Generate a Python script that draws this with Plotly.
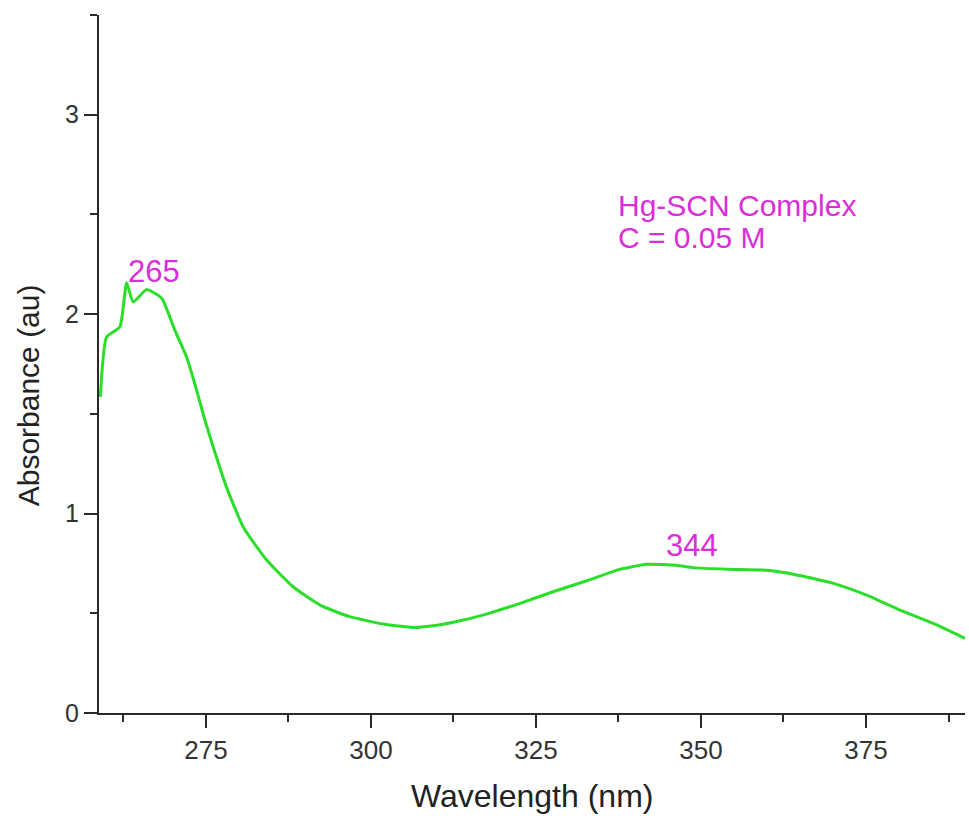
import plotly.graph_objects as go

# Data
wavelength = [259.0, 259.95, 261.97, 262.98, 263.98, 266.0, 267.8, 268.5, 270.3,
              272.07, 273.3, 274.85, 276.1, 278.1, 280.65, 284.2, 288.2, 292.3,
              296.8, 301.9, 306.4, 310.5, 312.5, 317.5, 322.6, 327.6, 332.7,
              337.7, 341.8, 346.3, 348.8, 354.0, 359.9, 364.0, 370.05, 375.1,
              380.15, 385.2, 390.0]
absorbance = [1.585, 1.885, 1.937, 2.157, 2.061, 2.123, 2.094, 2.069, 1.919,
              1.785, 1.652, 1.468, 1.334, 1.134, 0.933, 0.767, 0.633, 0.541,
              0.483, 0.446, 0.429, 0.443, 0.455, 0.496, 0.550, 0.608, 0.663,
              0.720, 0.746, 0.741, 0.729, 0.721, 0.716, 0.696, 0.650, 0.591,
              0.516, 0.449, 0.374]

peak_labels = ["265", "344"]
peak_x = [267.1, 348.7]
peak_y = [2.214, 0.842]

legend_lines = ["Hg-SCN Complex", "C = 0.05 M"]
legend_y = [2.545, 2.385]

x_title = "Wavelength (nm)"
y_title = "Absorbance (au)"

FONT = "Liberation Sans, Arial, sans-serif"
MAGENTA = "#d92ed9"
AXIS = "#2a2a2a"

fig = go.Figure()
fig.add_trace(go.Scatter(
    x=wavelength, y=absorbance, mode="lines",
    line=dict(color="#2ade2a", width=3, shape="spline", smoothing=0.5),
    showlegend=False, hoverinfo="skip",
))

W, H = 969, 816
L, R, T, B = 99, 4, 15, 103
pw, ph = W - L - R, H - T - B

fig.update_layout(
    width=W, height=H,
    margin=dict(l=L, r=R, t=T, b=B),
    paper_bgcolor="white", plot_bgcolor="white",
    font=dict(family=FONT, color="#222222"),
    showlegend=False,
)

fig.update_xaxes(
    range=[258.8, 390], tick0=250, dtick=25,
    ticks="outside", ticklen=13, tickwidth=2, tickcolor=AXIS,
    minor=dict(dtick=12.5, tick0=250, ticks="outside", ticklen=7, tickwidth=2, tickcolor=AXIS),
    showline=True, linecolor=AXIS, linewidth=2,
    showgrid=False, zeroline=False,
    tickfont=dict(family=FONT, size=26, color="#333333"),
)
fig.update_yaxes(
    range=[0, 3.5], tick0=0, dtick=1,
    ticks="outside", ticklen=13, tickwidth=2, tickcolor=AXIS,
    minor=dict(dtick=0.5, tick0=0, ticks="outside", ticklen=7, tickwidth=2, tickcolor=AXIS),
    showline=True, linecolor=AXIS, linewidth=2,
    showgrid=False, zeroline=False,
    tickfont=dict(family=FONT, size=25, color="#333333"),
)

# x-axis line extends slightly left of the y axis
fig.add_shape(type="line", xref="paper", yref="paper",
              x0=-12 / pw, x1=0, y0=0, y1=0,
              line=dict(color=AXIS, width=2))

# axis titles
fig.add_annotation(text=x_title, xref="paper", yref="paper",
                   x=0.5, y=-(796 - 713) / ph, xanchor="center", yanchor="middle",
                   showarrow=False, font=dict(family=FONT, size=32, color="#222222"))
fig.add_annotation(text=y_title, xref="paper", yref="y",
                   x=-(99 - 28) / pw, y=1.593, xanchor="center", yanchor="middle",
                   textangle=-90, showarrow=False,
                   font=dict(family=FONT, size=30, color="#222222"))

for t, px, py in zip(peak_labels, peak_x, peak_y):
    fig.add_annotation(text=t, x=px, y=py, xref="x", yref="y",
                       xanchor="center", yanchor="middle", showarrow=False,
                       font=dict(family=FONT, size=31, color=MAGENTA))

for t, py in zip(legend_lines, legend_y):
    fig.add_annotation(text=t, xref="paper", yref="y",
                       x=(616 - 99) / pw, y=py, xanchor="left", yanchor="middle",
                       showarrow=False,
                       font=dict(family=FONT, size=30, color=MAGENTA))

fig.write_html("out.html")
